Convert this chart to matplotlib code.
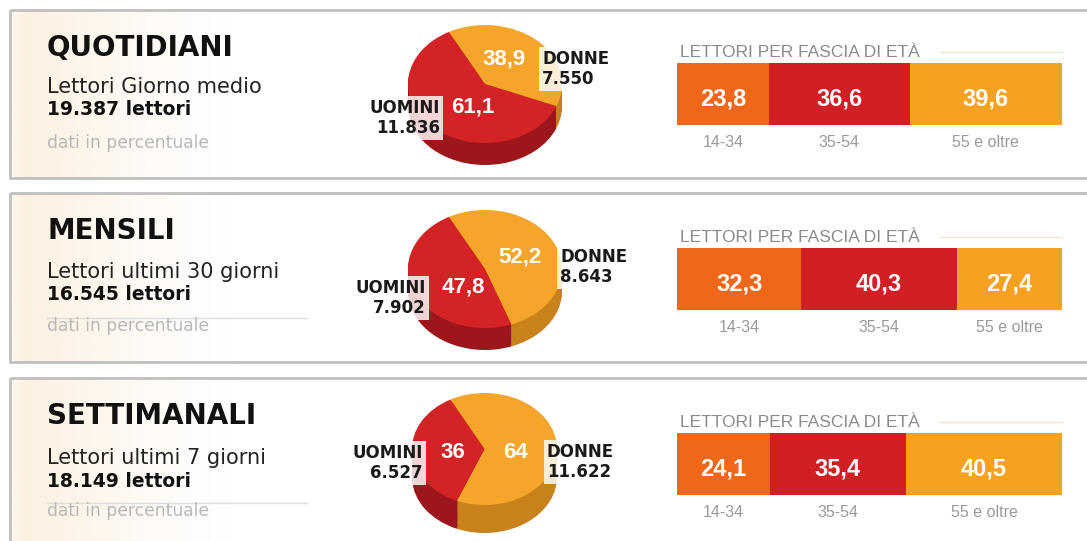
import matplotlib
matplotlib.use('Agg')
import matplotlib.pyplot as plt
import numpy as np
from matplotlib.patches import Rectangle

plt.rcParams['font.family'] = ['DejaVu Sans']
NUMFONT = ['Liberation Sans', 'DejaVu Sans']

# ---------------- data ----------------
sections = ['QUOTIDIANI', 'MENSILI', 'SETTIMANALI']
subtitles = ['Lettori Giorno medio', 'Lettori ultimi 30 giorni', 'Lettori ultimi 7 giorni']
totals = ['19.387 lettori', '16.545 lettori', '18.149 lettori']
note = 'dati in percentuale'
gender_labels = ['DONNE', 'UOMINI']
donne_pct = [38.9, 52.2, 64]
uomini_pct = [61.1, 47.8, 36]
donne_n = ['7.550', '8.643', '11.622']
uomini_n = ['11.836', '7.902', '6.527']
age_title = 'LETTORI PER FASCIA DI ETÀ'
age_groups = ['14-34', '35-54', '55 e oltre']
age_pct = [[23.8, 36.6, 39.6], [32.3, 40.3, 27.4], [24.1, 35.4, 40.5]]


def fmt(v):
    if float(v).is_integer():
        return str(int(v))
    return f'{v:.1f}'.replace('.', ',')


# ---------------- style ----------------
W, H = 1087, 541
RED = '#d42326'
ORANGE = '#f5a52a'
DARK_RED = '#9c161b'
DARK_ORANGE = '#c8821c'
BAR_COLORS = ['#f0671a', '#d21f26', '#f6a11f']

fig = plt.figure(figsize=(W / 100, H / 100), dpi=100)
fig.patch.set_facecolor('white')
ax = fig.add_axes([0, 0, 1, 1])
ax.set_xlim(0, W)
ax.set_ylim(H, 0)
ax.axis('off')

panel_tops = [10, 193, 378]
panel_bottoms = [178, 362, 560]

# peach gradient along the left side of each panel
n = 220
xs = np.linspace(0, 1, n)
grad = np.zeros((1, n, 4))
grad[..., 0] = 250 / 255
grad[..., 1] = 226 / 255
grad[..., 2] = 196 / 255
grad[0, :, 3] = np.clip(np.minimum(0.5 + xs / 0.12, 1) * (1 - xs) ** 1.3, 0, 1) * 0.55

for i in range(3):
    t, b = panel_tops[i], panel_bottoms[i]
    ax.imshow(grad, extent=(11, 240, b, t), aspect='auto', zorder=0.5, interpolation='bilinear')
    ax.add_patch(Rectangle((10, t), 1100, b - t, fill=False, edgecolor='#bfbfbf', lw=2, zorder=3))
    ax.set_xlim(0, W)
    ax.set_ylim(H, 0)

    # left texts
    ax.text(47, t + 46, sections[i], fontsize=20, fontweight='bold', color='#111111', va='baseline')
    ax.text(47, t + [83, 85, 86][i], subtitles[i], fontsize=15, color='#222222', va='baseline')
    ax.text(47, t + [105, 107, 109][i], totals[i], fontsize=13.5, fontweight='bold', color='#111111',
            va='baseline')
    ax.text(47, t + 138, note, fontsize=12.3, color='#b8b8b8', va='baseline')
    if i > 0:
        ax.plot([47, 307], [t + 125, t + 125], color='#dddddd', lw=1, zorder=2)

# ---------------- pies ----------------
pie_geo = [(485, 25, 77, 59, 22), (485, 210, 77, 59, 22), (484.5, 393, 72.5, 56, 28)]
for i in range(3):
    cx, top, a, b, depth = pie_geo[i]
    hgt = 2 * b + depth
    axp = fig.add_axes([(cx - a) / W, 1 - (top + hgt) / H, 2 * a / W, hgt / H])
    d = depth / b
    vals = [donne_pct[i], uomini_pct[i]]
    for k in np.linspace(-d, 0, 16)[:-1]:
        axp.pie(vals, colors=[DARK_ORANGE, DARK_RED], startangle=118, counterclock=False,
                center=(0, k), wedgeprops=dict(linewidth=0))
    axp.pie(vals, colors=[ORANGE, RED], startangle=118, counterclock=False,
            center=(0, 0), wedgeprops=dict(linewidth=0))
    axp.set_aspect('auto')
    axp.set_xlim(-1, 1)
    axp.set_ylim(-1 - d, 1)
    axp.axis('off')

# ---------------- bars ----------------
bar_tops = [63, 248, 433]
bar_h = 62
for i in range(3):
    axb = fig.add_axes([677 / W, 1 - (bar_tops[i] + bar_h) / H, 385 / W, bar_h / H])
    vals = age_pct[i]
    lefts = np.concatenate([[0], np.cumsum(vals)[:-1]])
    axb.barh(0, vals, left=lefts, height=1, color=BAR_COLORS, linewidth=0)
    axb.set_xlim(0, sum(vals))
    axb.set_ylim(-0.5, 0.5)
    axb.axis('off')
    for v, l, g in zip(vals, lefts, age_groups):
        axb.text(l + v / 2, -0.18, fmt(v), fontsize=17, fontweight='bold', color='white',
                 ha='center', va='baseline', family=NUMFONT)
        axb.text(l + v / 2, -0.86, g, fontsize=11.5, color='#9a9a9a', ha='center', va='baseline',
                 clip_on=False, family=NUMFONT)
    axb.text(0.8, 0.6, age_title, fontsize=12.5, color='#8a8a8a', ha='left', va='baseline',
             clip_on=False, family=NUMFONT)
    ax.plot([940, 1062], [bar_tops[i] - 11, bar_tops[i] - 11], color='#f3e2d2', lw=1, zorder=2)

# ---------------- pie labels (overlay) ----------------
ov = fig.add_axes([0, 0, 1, 1])
ov.set_xlim(0, W)
ov.set_ylim(H, 0)
ov.axis('off')
ov.patch.set_alpha(0)

pie_lbl = [
    dict(dx=542, dy=65, ux=440, uy=113, dvx=504, uvx=473, dvy=65, uvy=113),
    dict(dx=560, dy=263, ux=426, uy=293, dvx=520, uvx=463, dvy=263, uvy=293),
    dict(dx=547, dy=458, ux=423, uy=458, dvx=516, uvx=453, dvy=458, uvy=458),
]
for i in range(3):
    p = pie_lbl[i]
    box = dict(facecolor='white', alpha=0.82, edgecolor='none', boxstyle='square,pad=0.2')
    ov.text(p['dx'], p['dy'] - 15, f"{gender_labels[0]}\n{donne_n[i]}", fontsize=12, fontweight='bold',
            color='#1a1a1a', ha='left', va='top', linespacing=1.12, bbox=box)
    ov.text(p['ux'], p['uy'] - 14, f"{gender_labels[1]}\n{uomini_n[i]}", fontsize=12,
            fontweight='bold', color='#1a1a1a', ha='right', va='top', multialignment='right',
            linespacing=1.12, bbox=box)
    ov.text(p['dvx'], p['dvy'], fmt(donne_pct[i]), fontsize=16, fontweight='bold', color='white',
            ha='center', va='baseline', family=NUMFONT)
    ov.text(p['uvx'], p['uvy'], fmt(uomini_pct[i]), fontsize=16, fontweight='bold', color='white',
            ha='center', va='baseline', family=NUMFONT)

fig.savefig('out.png', dpi=100)
